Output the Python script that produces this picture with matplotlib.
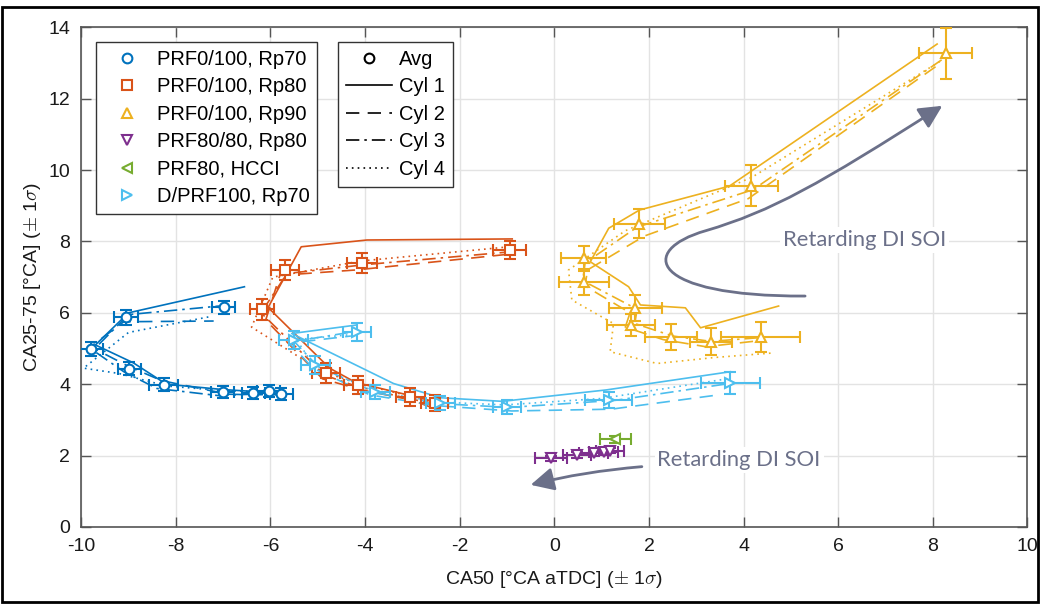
import numpy as np
import matplotlib.pyplot as plt
from matplotlib.lines import Line2D
from matplotlib.patches import FancyArrowPatch, Rectangle
from matplotlib.path import Path

plt.rcParams['font.family'] = ['Liberation Sans', 'DejaVu Sans']
plt.rcParams['mathtext.fontset'] = 'cm'
plt.rcParams['axes.unicode_minus'] = False

# MATLAB default colour order
col_blue = '#0072BD'
col_orange = '#D95319'
col_yellow = '#EDB120'
col_purple = '#7E2F8E'
col_green = '#77AC30'
col_cyan = '#4DBEEE'
col_arrow = '#6B7089'

labels = ['PRF0/100, Rp70', 'PRF0/100, Rp80', 'PRF0/100, Rp90',
          'PRF80/80, Rp80', 'PRF80, HCCI', 'D/PRF100, Rp70']
cyl_labels = ['Cyl 1', 'Cyl 2', 'Cyl 3', 'Cyl 4']

# ---- PRF0/100, Rp70 (blue) ----
b_x = [-5.77, -6.04, -6.36, -7.01, -8.26, -8.98, -9.79, -9.05, -6.99]
b_y = [3.72, 3.81, 3.76, 3.79, 3.99, 4.43, 4.98, 5.87, 6.15]
b_xerr = [0.25, 0.25, 0.25, 0.25, 0.3, 0.25, 0.25, 0.25, 0.25]
b_yerr = [0.17, 0.17, 0.17, 0.17, 0.17, 0.18, 0.2, 0.2, 0.18]
b_cyl_x = [[-5.85, -6.1, -6.4, -7.0, -8.2, -8.9, -9.7, -9.0, -6.55],
           [-5.7, -6.0, -6.3, -6.9, -8.3, -9.0, -9.8, -9.1, -7.2],
           [-5.8, -6.1, -6.4, -7.1, -8.4, -9.1, -9.75, -9.0, -7.0],
           [-5.75, -6.0, -6.35, -7.0, -8.2, -9.2, -9.95, -9.0, -7.25]]
b_cyl_y = [[3.75, 3.78, 3.8, 3.85, 4.0, 4.6, 5.1, 6.0, 6.73],
           [3.68, 3.72, 3.7, 3.72, 4.1, 4.5, 5.05, 5.75, 5.77],
           [3.7, 3.75, 3.72, 3.68, 3.88, 4.35, 4.95, 5.95, 6.2],
           [3.78, 3.85, 3.8, 3.82, 3.95, 4.3, 4.45, 5.45, 5.9]]

# ---- PRF0/100, Rp80 (orange) ----
o_x = [-2.53, -3.04, -4.14, -4.82, -6.18, -5.69, -4.07, -0.94]
o_y = [3.48, 3.65, 3.98, 4.32, 6.10, 7.20, 7.40, 7.76]
o_xerr = [0.28, 0.3, 0.3, 0.3, 0.26, 0.3, 0.32, 0.35]
o_yerr = [0.22, 0.25, 0.25, 0.28, 0.3, 0.28, 0.28, 0.25]
o_cyl_x = [[-2.5, -3.1, -4.2, -4.75, -6.05, -5.35, -3.96, -0.89],
           [-2.6, -3.0, -4.1, -4.9, -6.1, -5.8, -4.2, -0.9],
           [-2.5, -3.1, -4.2, -4.85, -6.2, -5.65, -4.0, -1.0],
           [-2.55, -3.0, -4.1, -4.9, -6.4, -5.95, -4.1, -0.95]]
o_cyl_y = [[3.5, 3.7, 4.05, 4.45, 6.15, 7.85, 8.04, 8.07],
           [3.35, 3.55, 3.85, 4.15, 5.8, 7.05, 7.2, 7.65],
           [3.45, 3.6, 3.95, 4.25, 6.0, 7.1, 7.35, 7.7],
           [3.5, 3.65, 4.0, 4.35, 5.6, 7.0, 7.45, 7.85]]

# ---- PRF0/100, Rp90 (yellow) ----
y_x = [4.36, 3.31, 2.47, 1.62, 1.71, 0.62, 0.62, 1.80, 4.16, 8.27]
y_y = [5.31, 5.19, 5.33, 5.66, 6.13, 6.87, 7.53, 8.50, 9.56, 13.27]
y_xerr = [0.83, 0.45, 0.55, 0.5, 0.56, 0.53, 0.48, 0.53, 0.56, 0.56]
y_yerr = [0.42, 0.38, 0.37, 0.3, 0.37, 0.37, 0.35, 0.41, 0.58, 0.71]
y_cyl_x = [[4.74, 3.09, 2.77, 1.82, 1.57, 0.76, 1.15, 1.80, 3.70, 8.09],
           [4.2, 3.2, 2.3, 1.5, 1.6, 0.65, 0.7, 1.9, 4.1, 8.16],
           [4.3, 3.3, 2.5, 1.7, 1.75, 0.6, 0.65, 1.75, 4.2, 8.2],
           [4.57, 3.4, 2.17, 1.18, 1.25, 0.37, 0.3, 1.5, 4.18, 8.22]]
y_cyl_y = [[6.19, 5.58, 6.14, 6.22, 6.73, 7.43, 8.37, 8.88, 9.55, 13.53],
           [5.2, 5.05, 5.25, 5.6, 6.0, 6.75, 7.2, 8.15, 9.2, 12.99],
           [5.3, 5.2, 5.35, 5.7, 6.1, 6.9, 7.4, 8.4, 9.45, 13.1],
           [4.87, 4.75, 4.58, 4.91, 5.7, 6.36, 7.2, 8.3, 9.8, 13.1]]

# ---- PRF80/80, Rp80 (purple) ----
p_x = [-0.07, 0.48, 0.83, 1.04, 1.18]
p_y = [1.92, 2.02, 2.06, 2.11, 2.14]
p_xerr = [0.33, 0.3, 0.3, 0.3, 0.3]
p_yerr = [0.08, 0.08, 0.08, 0.08, 0.08]

# ---- PRF80, HCCI (green) ----
g_x = [1.29]
g_y = [2.46]
g_xerr = [0.32]
g_yerr = [0.1]

# ---- D/PRF100, Rp70 (light blue) ----
c_x = [3.72, 1.15, -1.0, -2.41, -3.78, -5.05, -5.51, -4.17]
c_y = [4.03, 3.56, 3.37, 3.48, 3.79, 4.54, 5.24, 5.47]
c_xerr = [0.63, 0.5, 0.3, 0.3, 0.3, 0.3, 0.3, 0.3]
c_yerr = [0.3, 0.23, 0.2, 0.2, 0.2, 0.25, 0.25, 0.25]
c_cyl_x = [[3.72, 1.1, -1.1, -2.4, -3.4, -4.6, -5.55, -4.17],
           [3.35, 1.2, -0.9, -2.5, -3.9, -5.1, -5.6, -4.3],
           [3.6, 1.3, -0.95, -2.35, -3.75, -5.0, -5.5, -4.1],
           [3.65, 1.0, -1.05, -2.45, -3.8, -5.1, -5.45, -4.2]]
c_cyl_y = [[4.35, 3.84, 3.52, 3.62, 4.02, 4.8, 5.42, 5.66],
           [3.68, 3.3, 3.25, 3.4, 3.7, 4.45, 5.15, 5.35],
           [4.0, 3.55, 3.35, 3.45, 3.75, 4.5, 5.2, 5.5],
           [4.15, 3.6, 3.42, 3.5, 3.8, 4.55, 5.25, 5.4]]

# annotation arrows (bezier control points, data coords)
arrow_up_x = [5.3, 2.0, 1.75, 3.2, 4.6, 5.6, 8.2]
arrow_up_y = [6.47, 6.45, 7.75, 8.3, 8.85, 9.6, 11.8]
arrow_dn_x = [1.85, 0.6, -0.5]
arrow_dn_y = [1.69, 1.55, 1.18]

cyl_styles = ['-', (0, (8, 5)), (0, (8, 3, 1.5, 3)), (0, (1, 2.5))]

fig = plt.figure(figsize=(10.41, 6.06), dpi=100)
ax = fig.add_axes([0.078, 0.1304, 0.909, 0.8246])

series = [
    (b_x, b_y, b_xerr, b_yerr, b_cyl_x, b_cyl_y, col_blue, 'o'),
    (o_x, o_y, o_xerr, o_yerr, o_cyl_x, o_cyl_y, col_orange, 's'),
    (y_x, y_y, y_xerr, y_yerr, y_cyl_x, y_cyl_y, col_yellow, '^'),
    (p_x, p_y, p_xerr, p_yerr, None, None, col_purple, 'v'),
    (g_x, g_y, g_xerr, g_yerr, None, None, col_green, '<'),
    (c_x, c_y, c_xerr, c_yerr, c_cyl_x, c_cyl_y, col_cyan, '>'),
]

for sx, sy, sxe, sye, cx, cy, col, mk in series:
    if cx is not None:
        for k in range(4):
            ax.plot(cx[k], cy[k], color=col, lw=1.2, ls=cyl_styles[k], zorder=2)
    ax.errorbar(sx, sy, xerr=sxe, yerr=sye, fmt=mk, color=col, mfc='white',
                mec=col, ms=7, mew=1.5, elinewidth=1.5, capsize=4.5,
                capthick=1.5, zorder=3)

# arrows
up_codes = [Path.MOVETO] + [Path.CURVE4] * 6
up_path = Path(np.column_stack([arrow_up_x, arrow_up_y]), up_codes)
ax.add_patch(FancyArrowPatch(path=up_path, arrowstyle='-|>,head_length=0.7,head_width=0.35',
                             mutation_scale=20, color=col_arrow, lw=2, zorder=4))
dn_codes = [Path.MOVETO, Path.CURVE3, Path.CURVE3]
dn_path = Path(np.column_stack([arrow_dn_x, arrow_dn_y]), dn_codes)
ax.add_patch(FancyArrowPatch(path=dn_path, arrowstyle='-|>,head_length=0.7,head_width=0.35',
                             mutation_scale=20, color=col_arrow, lw=2, zorder=4))

txt_kw = dict(color=col_arrow, fontsize=15.8, family=['Lato', 'DejaVu Sans'], va='center',
              bbox=dict(facecolor='white', edgecolor='none', pad=2))
ax.text(4.84, 8.04, 'Retarding DI SOI', **txt_kw)
ax.text(2.18, 1.88, 'Retarding DI SOI', **txt_kw)

ax.set_xlim(-10, 10)
ax.set_ylim(0, 14)
ax.set_xticks(np.arange(-10, 11, 2))
ax.set_yticks(np.arange(0, 15, 2))
ax.grid(True, color='#e3e3e3', lw=1)
ax.set_axisbelow(True)
ax.tick_params(direction='in', length=7, width=1, colors='#555555', labelcolor='#1a1a1a',
               labelsize=14, top=True, right=True, pad=8)
for sp in ax.spines.values():
    sp.set_color('#555555')
    sp.set_linewidth(1.2)
ax.set_xlabel(r'CA50 [°CA aTDC] ($\pm$ 1$\sigma$)', fontsize=14, color='#1a1a1a', labelpad=10)
ax.set_ylabel(r'CA25-75 [°CA] ($\pm$ 1$\sigma$)', fontsize=14, color='#1a1a1a', labelpad=4)

# legend 1: fuels
cols = [col_blue, col_orange, col_yellow, col_purple, col_green, col_cyan]
mks = ['o', 's', '^', 'v', '<', '>']
h1 = [Line2D([], [], ls='none', marker=m, color=c, mfc='white', ms=7, mew=1.5)
      for m, c in zip(mks, cols)]
leg_kw = dict(loc='upper left', fontsize=14.5, frameon=True, fancybox=False,
              edgecolor='#333333', framealpha=1, handlelength=2.3,
              handletextpad=0.3, labelspacing=0.42, borderpad=0.4, borderaxespad=0)
leg1 = ax.legend(h1, labels, bbox_to_anchor=(0.0158, 0.9706), **leg_kw)
leg1.get_frame().set_linewidth(1)
ax.add_artist(leg1)

# legend 2: avg / cylinders
h2 = [Line2D([], [], ls='none', marker='o', color='k', mfc='white', ms=7, mew=1.5)]
h2 += [Line2D([], [], color='k', lw=1.2, ls=s) for s in cyl_styles]
leg2 = ax.legend(h2, ['Avg'] + cyl_labels, bbox_to_anchor=(0.2715, 0.9706), **leg_kw)
leg2.get_frame().set_linewidth(1)

fig.patches.append(Rectangle((0.002, 0.006), 0.995, 0.982, transform=fig.transFigure,
                             fill=False, edgecolor='black', lw=2))

fig.savefig('out.png', dpi=100)
